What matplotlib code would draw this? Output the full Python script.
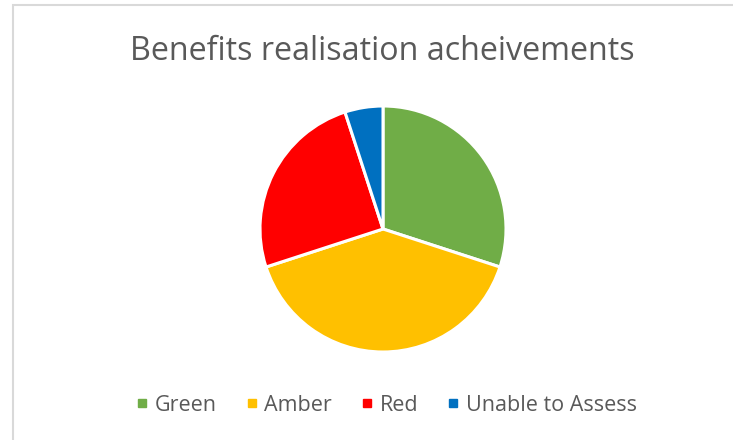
import matplotlib
matplotlib.use("Agg")
import matplotlib.pyplot as plt
from matplotlib.lines import Line2D
from matplotlib.patches import Rectangle

categories = ["Green", "Amber", "Red", "Unable to Assess"]
values = [30, 40, 25, 5]
colors = ["#70AD47", "#FFC000", "#FF0000", "#0070C0"]
title = "Benefits realisation acheivements"

W, H = 733, 440
fig = plt.figure(figsize=(W / 100, H / 100), dpi=100)
plt.rcParams['font.family'] = ['Open Sans', 'DejaVu Sans']

# chart border
fig.add_artist(Rectangle((13.5 / W, -0.05), 1.0, (H - 5.5) / H + 0.05,
                         transform=fig.transFigure, fill=False,
                         edgecolor="#D9D9D9", linewidth=1.5))

cx, cy, r = 383, 229, 123
ax = fig.add_axes([(cx - r) / W, (H - cy - r) / H, 2 * r / W, 2 * r / H])
ax.pie(values, colors=colors, startangle=90, counterclock=False,
       wedgeprops=dict(edgecolor="white", linewidth=2.2), radius=1.0)
ax.set_xlim(-1, 1)
ax.set_ylim(-1, 1)
ax.set_aspect("equal")
ax.axis("off")

fig.text(382 / W, 1 - 51 / H, title, ha="center", va="center",
         fontsize=23.2, color="#595959")

handles = [Line2D([], [], marker="s", linestyle="none", markersize=5.5,
                  markerfacecolor=c, markeredgecolor=c) for c in colors]
fig.legend(handles, categories, loc="center", bbox_to_anchor=(384 / W, 1 - 405 / H),
           ncol=4, frameon=False, fontsize=15.5, handletextpad=0.1,
           columnspacing=1.1, labelcolor="#595959", handlelength=1.0)

fig.savefig("out.png", dpi=100, facecolor="white")
